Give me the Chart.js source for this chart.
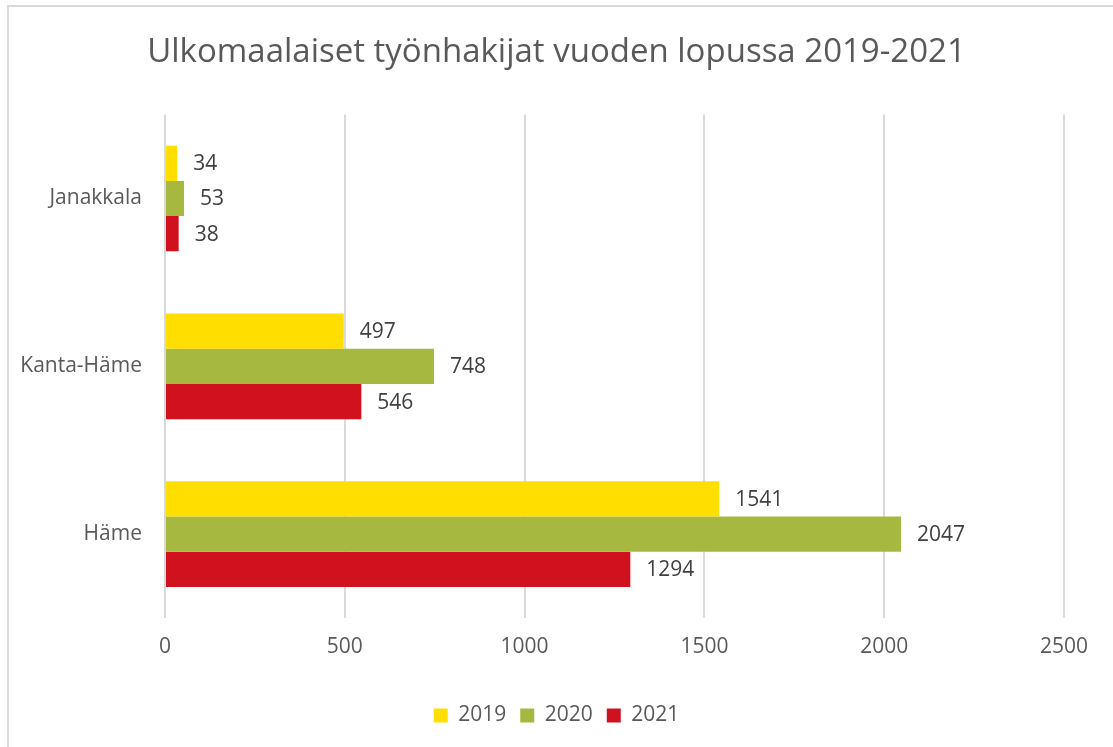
<!DOCTYPE html>
<html>
<head>
<meta charset="utf-8">
<script src="https://cdn.jsdelivr.net/npm/chart.js@4/dist/chart.umd.min.js"></script>
<style>
  html, body { margin: 0; padding: 0; background: #ffffff; }
  #frame { position: absolute; left: 7px; top: 5px; width: 1200px; height: 900px; border-left: 2px solid #d9d9d9; border-top: 2px solid #d9d9d9; box-sizing: border-box; }
  #wrap { position: absolute; left: 0; top: 0; width: 1113px; height: 747px; }
</style>
</head>
<body>
<div id="frame"></div>
<div id="wrap"><canvas id="c" width="1113" height="747"></canvas></div>
<script>
const categories = ['Janakkala', 'Kanta-Häme', 'Häme'];
const seriesNames = ['2019', '2020', '2021'];
const values2019 = [34, 497, 1541];
const values2020 = [53, 748, 2047];
const values2021 = [38, 546, 1294];
const xTicks = [0, 500, 1000, 1500, 2000, 2500];
const title = 'Ulkomaalaiset työnhakijat vuoden lopussa 2019-2021';

const colors = ['#FFDE00', '#A6B840', '#D0121F'];
const FONT = '"Open Sans", "DejaVu Sans", sans-serif';

const valueLabels = {
  id: 'valueLabels',
  afterDatasetsDraw(chart) {
    const ctx = chart.ctx;
    ctx.save();
    ctx.font = '21px ' + FONT;
    ctx.fillStyle = '#404040';
    ctx.textAlign = 'left';
    ctx.textBaseline = 'middle';
    chart.data.datasets.forEach((ds, i) => {
      const meta = chart.getDatasetMeta(i);
      meta.data.forEach((el, j) => {
        ctx.fillText(String(ds.data[j]), el.x + 16, el.y + 1);
      });
    });
    ctx.restore();
  }
};

new Chart(document.getElementById('c'), {
  type: 'bar',
  data: {
    labels: categories,
    datasets: [
      { label: seriesNames[0], data: values2019, backgroundColor: colors[0] },
      { label: seriesNames[1], data: values2020, backgroundColor: colors[1] },
      { label: seriesNames[2], data: values2021, backgroundColor: colors[2] }
    ]
  },
  options: {
    indexAxis: 'y',
    responsive: false,
    animation: false,
    devicePixelRatio: 1,
    categoryPercentage: 0.63,
    barPercentage: 1.0,
    layout: { padding: { left: 0, right: 0, top: 0, bottom: 11 } },
    scales: {
      x: {
        min: 0, max: 2500,
        afterBuildTicks(s) { s.ticks = xTicks.map(v => ({ value: v })); },
        grid: { color: '#d9d9d9', lineWidth: 2, drawTicks: false },
        border: { display: false },
        ticks: { font: { family: FONT, size: 21 }, color: '#595959', padding: 16,
                 callback: v => String(v) },
        afterFit(s) { s.height = 73; }
      },
      y: {
        grid: { display: false },
        border: { display: false },
        ticks: { font: { family: FONT, size: 21 }, color: '#595959', padding: 15 },
        afterFit(s) { s.width = 165; }
      },
      yRight: {
        type: 'category',
        position: 'right',
        labels: categories,
        grid: { display: false, drawTicks: false },
        border: { display: false },
        ticks: { display: false },
        afterFit(s) { s.width = 49; }
      }
    },
    plugins: {
      title: {
        display: true,
        text: title,
        color: '#595959',
        font: { family: FONT, size: 33, weight: 'normal' },
        padding: { top: 33, bottom: 42 }
      },
      legend: {
        position: 'bottom',
        labels: {
          boxWidth: 14, boxHeight: 14,
          font: { family: FONT, size: 21 },
          color: '#595959',
          padding: 14
        }
      },
      tooltip: { enabled: false }
    }
  },
  plugins: [valueLabels]
});
</script>
</body>
</html>
